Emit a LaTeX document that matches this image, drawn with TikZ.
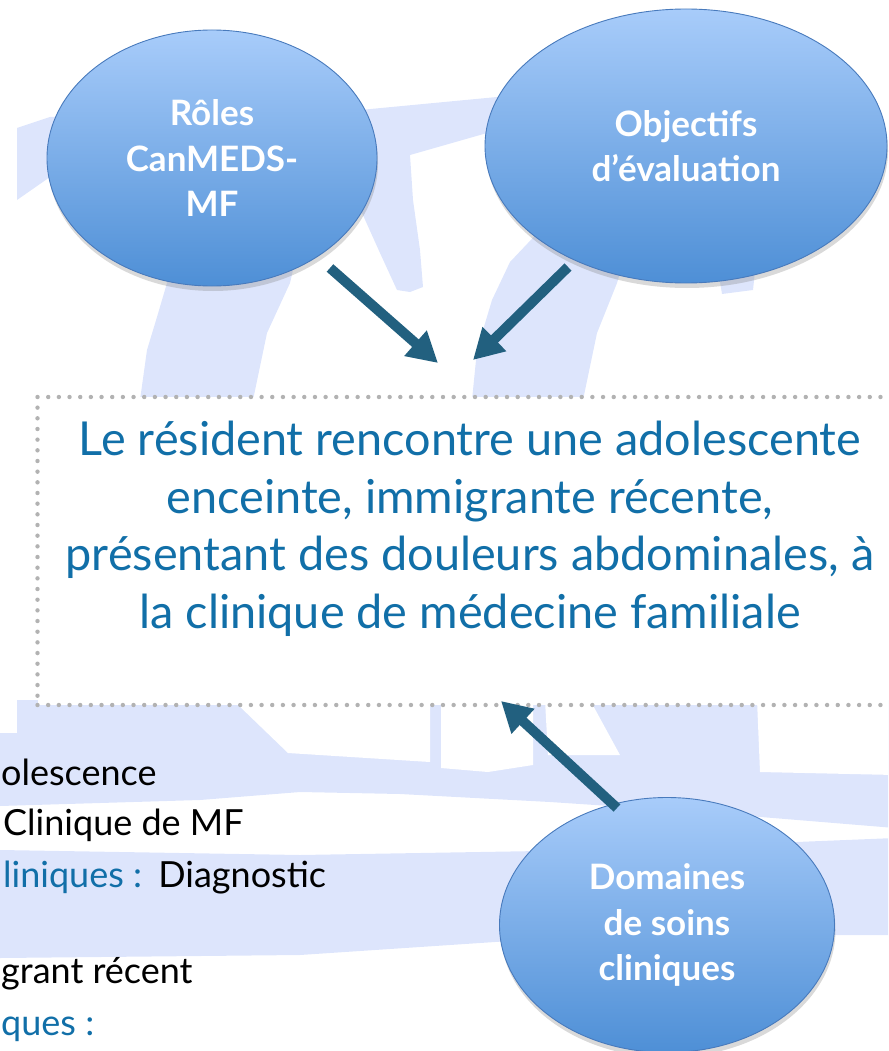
\documentclass[tikz,border=0pt]{standalone}
\usepackage{fontspec}
\setmainfont{Lato}
\usetikzlibrary{shapes.geometric,arrows.meta,shadows}
\definecolor{wm}{RGB}{221,229,252}
\definecolor{arrowc}{RGB}{34,96,127}
\definecolor{txtblue}{RGB}{17,111,168}
\definecolor{bubtop}{RGB}{168,204,250}
\definecolor{bubbot}{RGB}{78,143,214}
\definecolor{bubline}{RGB}{72,122,188}
\definecolor{dotc}{RGB}{178,178,178}
\begin{document}
\begin{tikzpicture}[x=1pt,y=-1pt,
 bub/.style={ellipse, draw=bubline, line width=0.9pt, top color=bubtop, bottom color=bubbot, inner sep=0pt, align=center, text=white, font=\bfseries\fontsize{35}{45.5}\selectfont, drop shadow={opacity=0.3, shadow xshift=1pt, shadow yshift=-5pt}},
 conn/.style={draw=arrowc, line width=10pt, -{Triangle[width=32pt,length=30pt]}},
 scenbox/.style={draw=dotc, fill=white, line width=4.4pt, dash pattern=on 0pt off 10.67pt, line cap=round, inner sep=0pt},
 scen/.style={text=txtblue, font=\fontsize{46.8}{57.5}\selectfont, anchor=base, inner sep=0pt},
 side/.style={font=\fontsize{36}{40}\selectfont, inner sep=0pt},
 wmark/.style={fill=wm, draw=none},
 wcut/.style={fill=white, draw=none}
]
\useasboundingbox (0,0) rectangle (888,1051);
\clip (0,0) rectangle (888,1051);
% watermark top
\path[wmark] (17,128) -- (50,117) -- (360,110) -- (497,97) -- (510,96) -- (510,133) -- (487,133) -- (410,155) -- (413,200) -- (420,250) -- (423,287) -- (410,292) -- (397,290) -- (380,253) -- (362,213) -- (300,200) -- (50,177) -- (17,200) -- cycle;
\path[wmark] (165,240) -- (300,240) -- (290,283) -- (267,333) -- (253,400) -- (140,400) -- (147,350) -- (157,317) -- (167,283) -- cycle;
\path[wmark] (545,225) -- (630,240) -- (617,283) -- (597,333) -- (583,400) -- (472,400) -- (477,350) -- (492,300) -- (510,262) -- cycle;
\path[wmark] (718,270) -- (756,262) -- (753,290) -- (722,294) -- cycle;
% watermark bottom
\path[wmark] (0,733) -- (17,733) -- (17,700) -- (895,700) -- (895,828) -- (700,812) -- (550,802) -- (400,794) -- (300,792) -- (200,800) -- (0,806) -- cycle;
\path[wcut] (233,700) -- (430,700) -- (430,762) -- (288,753) -- cycle;
\path[wcut] (441,700) -- (533,700) -- (533,765) -- (488,772) -- (441,768) -- cycle;
\path[wcut] (545,700) -- (590,700) -- (620,755) -- (548,755) -- cycle;
\path[wcut] (757,700) -- (895,700) -- (895,775) -- (760,772) -- cycle;
\path[wmark] (0,850) -- (300,855) -- (600,850) -- (895,838) -- (895,935) -- (600,935) -- (300,955) -- (0,958) -- cycle;
% scenario box
\node[scenbox, minimum width=865pt, minimum height=308pt] (box) at (470,551) {};
\node[scen] (l1) at (470,455) {Le résident rencontre une adolescente};
\node[scen] (l2) at (470,513) {enceinte, immigrante récente,};
\node[scen] (l3) at (470,570) {présentant des douleurs abdominales, à};
\node[scen] (l4) at (470,628) {la clinique de médecine familiale};
% side text
\node[side, anchor=base west] (t1) at (1,785) {olescence};
\node[side, anchor=base west] (t2) at (3,835) {Clinique de MF};
\node[side, anchor=base west] (t3) at (3,887) {\textcolor{txtblue}{liniques :}\hspace{4pt} Diagnostic};
\node[side, anchor=base west] (t4) at (1,983) {grant récent};
\node[side, anchor=base west, text=txtblue] (t5) at (1,1035) {ques :};
% bubbles
\node[bub, minimum width=330pt, minimum height=256pt] (roles) at (212,158) {Rôles\\CanMEDS-\\MF};
\node[bub, minimum width=402pt, minimum height=274pt] (obj) at (686,146) {Objectifs\\d’évaluation};
\node[bub, minimum width=335pt, minimum height=255pt] (dom) at (667,925) {Domaines\\de soins\\cliniques};
% arrows
\coordinate (a1s) at (330,268); \coordinate (a1e) at (438,363);
\coordinate (a2s) at (568,267); \coordinate (a2e) at (473,360);
\coordinate (a3s) at (617,808); \coordinate (a3e) at (501,701);
\draw[conn] (a1s) -- (a1e);
\draw[conn] (a2s) -- (a2e);
\draw[conn] (a3s) -- (a3e);
\end{tikzpicture}
\end{document}
